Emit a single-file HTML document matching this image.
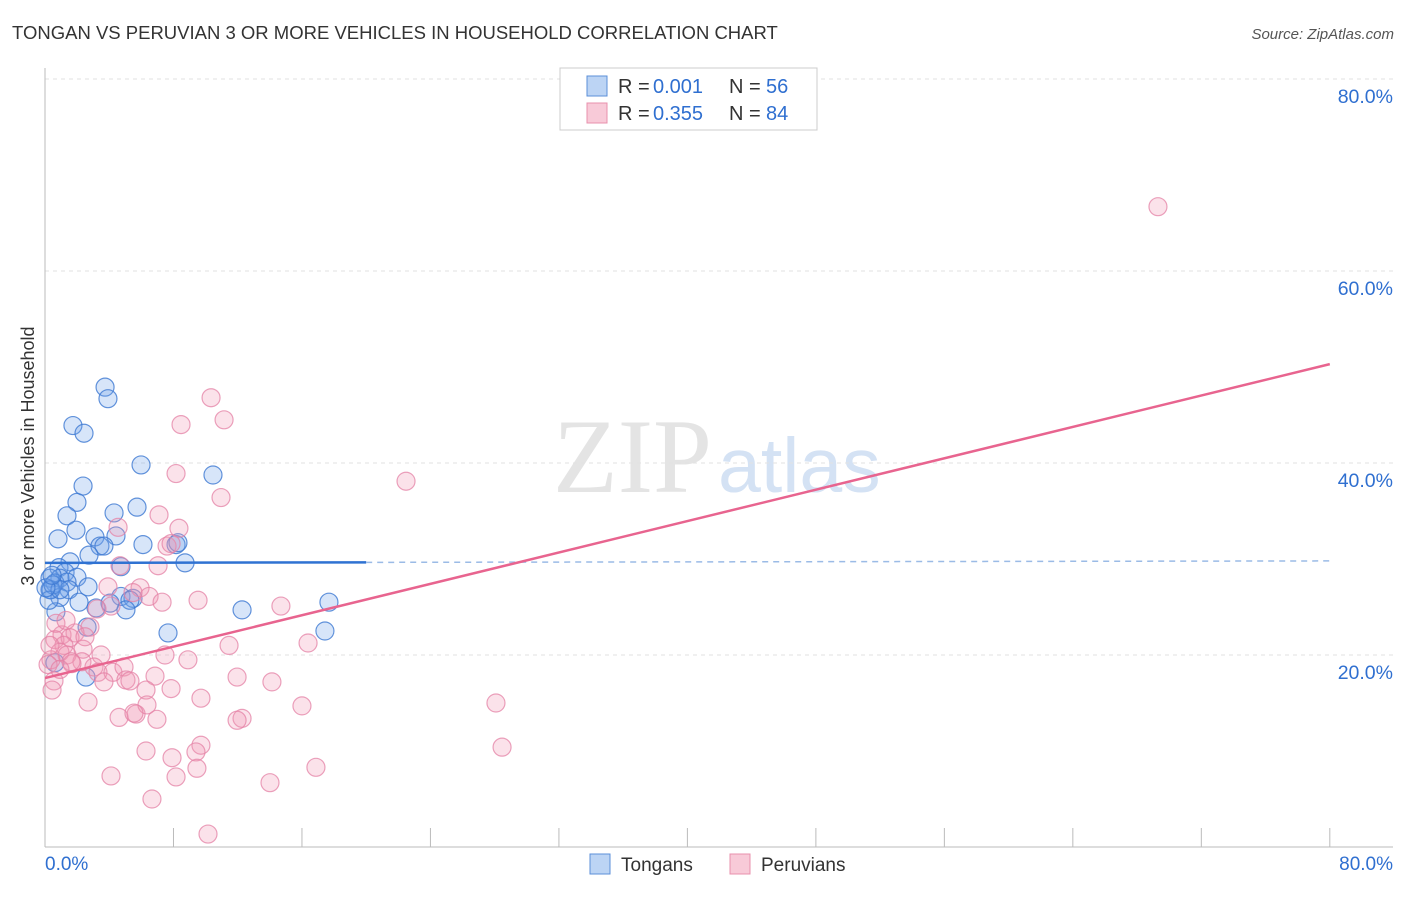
<!DOCTYPE html>
<html><head><meta charset="utf-8"><style>
body{margin:0;background:#fff;font-family:"Liberation Sans",sans-serif}
</style></head><body>
<svg id="chart" width="1406" height="892" xmlns="http://www.w3.org/2000/svg">
<text x="12" y="39" font-size="18.5" fill="#333">TONGAN VS PERUVIAN 3 OR MORE VEHICLES IN HOUSEHOLD CORRELATION CHART</text>
<text x="1394" y="39" font-size="15" fill="#555" font-style="italic" text-anchor="end">Source: ZipAtlas.com</text>
<text x="34" y="456" font-size="18" fill="#333" text-anchor="middle" transform="rotate(-90 34 456)">3 or more Vehicles in Household</text>
<text x="553" y="492" font-size="106" fill="#e4e4e4" font-family="Liberation Serif,serif">ZIP</text>
<text x="718" y="492" font-size="77" fill="#d4e2f4">atlas</text>
<g id="grid"></g><g id="marks"></g>
<rect x="560" y="68" width="257" height="62" fill="#fff" stroke="#ccc"/>
<rect x="587" y="76" width="20" height="20" fill="#bcd4f4" stroke="#5b8fd8"/>
<rect x="587" y="103" width="20" height="20" fill="#f8cad8" stroke="#e890ad"/>
<g font-size="20">
<text x="618" y="93" fill="#333">R =</text><text x="653" y="93" fill="#2f6fd0">0.001</text>
<text x="729" y="93" fill="#333">N =</text><text x="766" y="93" fill="#2f6fd0">56</text></g>
<g font-size="20">
<text x="618" y="120" fill="#333">R =</text><text x="653" y="120" fill="#2f6fd0">0.355</text>
<text x="729" y="120" fill="#333">N =</text><text x="766" y="120" fill="#2f6fd0">84</text></g>
<rect x="590" y="854" width="20" height="20" fill="#bcd4f4" stroke="#5b8fd8"/>
<text x="621" y="871" font-size="19" fill="#333">Tongans</text>
<rect x="730" y="854" width="20" height="20" fill="#f8cad8" stroke="#e890ad"/>
<text x="761" y="871" font-size="19" fill="#333">Peruvians</text>
</svg>
<script>
const yTicks=[20,40,60,80];
const yTickLabels=["20.0%","40.0%","60.0%","80.0%"];
const xTickLabels=["0.0%","80.0%"];
const tonganX=[3.74,3.92,1.74,2.43,5.98,10.46,1.99,2.37,1.37,5.73,4.30,1.93,4.42,3.11,3.42,3.67,0.81,6.10,8.16,8.28,2.74,1.56,8.72,4.73,0.87,1.25,1.99,0.31,0.93,0.62,1.37,2.68,0.31,1.49,0.93,2.12,4.73,5.48,3.18,4.05,5.29,5.04,0.68,12.27,17.68,7.66,2.62,17.43,2.55,0.62,0.37,0.50,0.25,0.93,0.06,0.44];
const tonganY=[47.9,46.7,43.9,43.1,39.8,38.75,35.9,37.6,34.5,35.4,34.8,33.0,32.4,32.3,31.35,31.35,32.1,31.5,31.5,31.7,30.4,29.7,29.6,29.2,29.1,28.6,28.1,28.0,28.0,27.5,27.6,27.1,26.8,26.8,26.0,25.5,26.1,25.9,24.9,25.4,25.7,24.7,24.5,24.7,25.5,22.3,22.9,22.5,17.7,19.2,26.8,27.3,25.7,26.8,27.0,28.3];
const peruX=[69.30,10.34,11.15,8.47,22.48,8.16,10.96,7.10,4.55,8.34,7.60,7.85,7.04,4.67,3.92,5.92,6.48,5.48,7.29,9.53,14.69,3.24,4.11,2.80,1.06,1.87,0.62,1.56,1.18,0.93,1.37,2.37,11.46,16.38,3.49,0.37,7.47,8.90,2.30,3.05,1.68,3.30,4.23,4.92,5.04,5.29,6.85,11.96,14.13,0.56,3.67,6.29,7.85,9.71,2.68,16.00,28.08,4.61,6.97,5.67,6.35,12.27,11.96,5.54,9.71,6.29,7.91,9.40,28.46,16.87,4.11,8.16,9.46,14.01,6.66,10.15,0.31,0.19,0.44,0.68,1.31,2.49,1.62,0.93];
const peruY=[66.7,46.8,44.5,44.0,38.1,38.9,36.4,34.6,33.3,33.2,31.35,31.6,29.3,29.3,27.1,27.0,26.1,26.5,25.5,25.7,25.1,24.8,25.1,22.9,22.1,22.3,21.6,21.8,21.0,20.3,20.0,20.6,21.0,21.25,20.0,19.5,20.0,19.5,19.3,18.75,19.1,18.2,18.2,18.75,17.4,17.3,17.8,17.7,17.2,17.3,17.2,16.35,16.5,15.5,15.1,14.7,15.0,13.5,13.3,13.85,14.8,13.4,13.2,13.95,10.6,10.0,9.3,9.9,10.4,8.3,7.4,7.3,8.2,6.7,5.0,1.35,21.0,19.0,16.35,23.3,23.6,21.9,19.3,18.5];
const tonganTrend=[29.6,29.8];
const peruTrend=[17.6,50.3];
const xs=v=>45+v*16.06, ys=v=>847-v*9.6;
const NS="http://www.w3.org/2000/svg";
const grid=document.getElementById('grid'), marks=document.getElementById('marks');
function mk(tag,attrs,parent){const e=document.createElementNS(NS,tag);for(const k in attrs)e.setAttribute(k,attrs[k]);parent.appendChild(e);return e;}
yTicks.forEach((t,i)=>{
 const l=mk('line',{x1:45,x2:1393,y1:ys(t),y2:ys(t),stroke:'#e2e2e2','stroke-dasharray':'4,4'},grid);
 
 
 const tx=mk('text',{x:1393,y:ys(t)+24,'font-size':19.5,fill:'#2f6fd0','text-anchor':'end'},grid);
 tx.textContent=yTickLabels[i];
 
 
});
let ax=mk('line',{x1:45,x2:45,y1:68,y2:847,stroke:'#bbb'},grid);


ax=mk('line',{x1:45,x2:1393,y1:847,y2:847,stroke:'#bbb'},grid);


for(let i=1;i<=10;i++){
 const tk=mk('line',{x1:xs(i*8),x2:xs(i*8),y1:828,y2:847,stroke:'#bbb'},grid);
 
 
}
[[0,'start',45],[80,'end',1393]].forEach((d,i)=>{
 const tx=mk('text',{x:d[2],y:870,'font-size':19,fill:'#2f6fd0','text-anchor':d[1]},grid);
 tx.textContent=xTickLabels[i];
 
 
});
tonganX.forEach((x,i)=>{
 const c=mk('circle',{cx:xs(x),cy:ys(tonganY[i]),r:9,fill:'rgba(110,160,235,0.28)',stroke:'rgba(60,120,210,0.8)','stroke-width':1.2},marks);
 
 
});
peruX.forEach((x,i)=>{
 const c=mk('circle',{cx:xs(x),cy:ys(peruY[i]),r:9,fill:'rgba(240,150,180,0.28)',stroke:'rgba(228,130,165,0.75)','stroke-width':1.2},marks);
 
 
});
const tAt=v=>tonganTrend[0]+(tonganTrend[1]-tonganTrend[0])*v/80;
let tl=mk('line',{x1:xs(0),y1:ys(tAt(0)),x2:xs(20),y2:ys(tAt(20)),stroke:'#2f72d2','stroke-width':2.5},marks);


tl=mk('line',{x1:xs(20),y1:ys(tAt(20)),x2:xs(80),y2:ys(tAt(80)),stroke:'#9bbbe6','stroke-width':1.5,'stroke-dasharray':'6,5'},marks);


tl=mk('line',{x1:xs(0),y1:ys(peruTrend[0]),x2:xs(80),y2:ys(peruTrend[1]),stroke:'#e8648f','stroke-width':2.5},marks);


</script>
</body></html>
